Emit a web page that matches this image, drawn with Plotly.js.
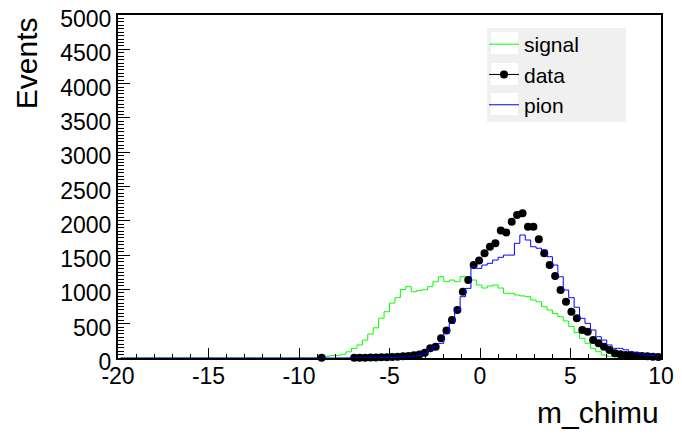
<!DOCTYPE html>
<html>
<head>
<meta charset="utf-8">
<script src="https://cdn.plot.ly/plotly-3.0.1.min.js"></script>
<style>
  html, body { margin: 0; padding: 0; background: #ffffff; }
  #chart { width: 682px; height: 437px; }
</style>
</head>
<body>
<div id="chart"></div>
<script>
// Histogram binning: 100 bins on [-20, 10]
const xMin = -20;
const xMax = 10;
const nBins = 100;

// Bin contents (events per bin)
const signalCounts = [
  0, 0, 0, 0, 0, 0, 0, 0, 0, 0,
  0, 0, 0, 0, 0, 0, 0, 0, 0, 0,
  0, 0, 0, 0, 0, 0, 0, 0, 0, 0,
  0, 0, 0, 0, 0, 0, 3, 10, 25, 35,
  40, 55, 90, 140, 190, 260, 350, 440, 580, 675,
  800, 880, 1000, 1040, 966, 985, 995, 1040, 1112, 1185,
  1112, 1137, 1112, 1185, 1185, 1137, 1064, 1020, 1050, 1064,
  1020, 943, 943, 918, 905, 894, 845, 820, 748, 700,
  650, 602, 540, 460, 370, 287, 214, 141, 92, 44,
  25, 18, 12, 8, 6, 4, 3, 2, 2, 1
];

const pionCounts = [
  0, 0, 0, 0, 0, 0, 0, 0, 0, 0,
  0, 0, 0, 0, 0, 0, 0, 0, 0, 0,
  0, 0, 0, 0, 0, 0, 0, 0, 0, 0,
  0, 0, 0, 0, 0, 0, 0, 0, 0, 0,
  1, 1, 2, 2, 3, 3, 4, 5, 6, 8,
  10, 12, 16, 20, 25, 40, 70, 117, 165, 214,
  360, 505, 700, 894, 1015, 1330, 1307, 1355, 1380, 1428,
  1468, 1500, 1500, 1672, 1793, 1720, 1622, 1600, 1574, 1477,
  1355, 1185, 991, 880, 740, 578, 505, 408, 310, 262,
  190, 141, 141, 120, 92, 80, 60, 44, 40, 25
];

const dataCounts = [
  null, null, null, null, null, null, null, null, null, null,
  null, null, null, null, null, null, null, null, null, null,
  null, null, null, null, null, null, null, null, null, null,
  null, null, null, null, null, null, null, 2, null, null,
  null, null, null, 3, 5, 4, 6, 8, 10, 12,
  15, 20, 25, 30, 40, 50, 77, 141, 165, 287,
  400, 554, 700, 966, 1137, 1355, 1420, 1526, 1622, 1672,
  1860, 1830, 1987, 2085, 2109, 1914, 1914, 1730, 1526, 1355,
  1195, 991, 820, 675, 578, 408, 383, 262, 214, 165,
  117, 68, 55, 45, 40, 35, 30, 25, 20, 15
];

const seriesNames = ['signal', 'data', 'pion'];
const xTickValues = [-20, -15, -10, -5, 0, 5, 10];
const xTitle = 'm_chimu';
const yTitle = 'Events';

// Bin centres from the binning definition
const binWidth = (xMax - xMin) / nBins;
const binCenters = [];
for (let i = 0; i < nBins; i++) binCenters.push(xMin + (i + 0.5) * binWidth);

const FONT = 'Liberation Sans, Arial, Helvetica, sans-serif';

const traces = [
  {
    name: seriesNames[0],
    x: binCenters, y: signalCounts,
    type: 'scatter', mode: 'lines',
    line: { shape: 'hvh', color: '#00ff00', width: 1 },
    legendrank: 1
  },
  {
    name: seriesNames[1],
    x: binCenters, y: dataCounts,
    type: 'scatter', mode: 'markers',
    marker: { color: '#000000', size: 8, symbol: 'circle' },
    cliponaxis: false,
    showlegend: false
  },
  // legend entry for the data points: marker with a line through it
  {
    name: seriesNames[1],
    x: [null], y: [null],
    type: 'scatter', mode: 'lines+markers',
    marker: { color: '#000000', size: 8, symbol: 'circle' },
    line: { color: '#000000', width: 1 },
    legendrank: 2
  },
  {
    name: seriesNames[2],
    x: binCenters, y: pionCounts,
    type: 'scatter', mode: 'lines',
    line: { shape: 'hvh', color: '#0000ff', width: 1 },
    legendrank: 3
  }
];

const axisCommon = {
  showgrid: false,
  zeroline: false,
  showline: true,
  linecolor: '#000000',
  linewidth: 2,
  mirror: true,
  ticks: 'inside',
  tickcolor: '#000000',
  tickwidth: 1,
  tickfont: { family: FONT, size: 23, color: '#000000' }
};

// pixel -> paper helpers for the legend panel
const plotL = 118, plotW = 543, plotT = 15, plotH = 343;
const px = v => (v - plotL) / plotW;
const py = v => (plotT + plotH - v) / plotH;

const legendRows = [43, 74, 104];
const shapes = [
  {
    type: 'rect', xref: 'paper', yref: 'paper', layer: 'above',
    x0: px(487), x1: px(626), y0: py(122), y1: py(28),
    fillcolor: '#f0f0f0', line: { width: 0 }
  }
].concat(legendRows.map(r => ({
  type: 'rect', xref: 'paper', yref: 'paper', layer: 'above',
  x0: px(491), x1: px(518), y0: py(r + 11), y1: py(r - 11),
  fillcolor: '#ffffff', line: { width: 0 }
})));

const layout = {
  width: 682,
  height: 437,
  margin: { l: 118, r: 21, t: 15, b: 79 },
  paper_bgcolor: '#ffffff',
  plot_bgcolor: '#ffffff',
  font: { family: FONT, color: '#000000' },
  xaxis: Object.assign({}, axisCommon, {
    range: [xMin, xMax],
    tickmode: 'array',
    tickvals: xTickValues,
    ticktext: xTickValues.map(v => String(v)),
    ticklen: 10,
    ticklabelstandoff: -4,
    minor: { dtick: 1, ticklen: 4, ticks: 'inside', tickcolor: '#000000', tickwidth: 1 }
  }),
  yaxis: Object.assign({}, axisCommon, {
    range: [0, 5000],
    tick0: 0, dtick: 500, ticklen: 12,
    ticklabelshift: 4,
    minor: { dtick: 50, ticklen: 6, ticks: 'inside', tickcolor: '#000000', tickwidth: 1 }
  }),
  showlegend: true,
  legend: {
    x: px(484), y: py(24), xanchor: 'left', yanchor: 'top',
    bgcolor: 'rgba(0,0,0,0)',
    borderwidth: 0,
    font: { family: FONT, size: 21, color: '#000000' },
    traceorder: 'normal'
  },
  shapes: shapes,
  annotations: [
    {
      text: yTitle, xref: 'paper', yref: 'paper',
      x: -0.169, y: 1.0, xanchor: 'center', yanchor: 'top',
      textangle: -90, showarrow: false,
      font: { family: FONT, size: 30, color: '#000000' }
    },
    {
      text: xTitle, xref: 'paper', yref: 'paper',
      x: 1.0, y: -0.16, xanchor: 'right', yanchor: 'middle',
      showarrow: false,
      font: { family: FONT, size: 30, color: '#000000' }
    }
  ]
};

Plotly.newPlot('chart', traces, layout, { displayModeBar: false, staticPlot: true });
</script>
</body>
</html>
